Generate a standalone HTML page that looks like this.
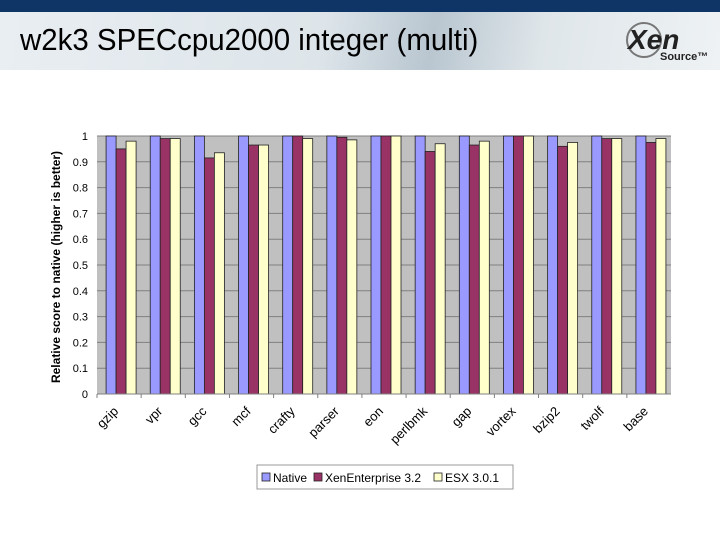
<!DOCTYPE html>
<html><head><meta charset="utf-8"><style>
body{margin:0;width:720px;height:540px;background:#fff;overflow:hidden;font-family:"Liberation Sans",Arial,sans-serif}
#hdr{position:absolute;left:0;top:0;width:720px;height:70px;background:linear-gradient(100deg,#e9eef2 0%,#dde5ea 45%,#b9c6d0 60%,#dfe6ea 75%,#eef2f4 100%)}
#topbar{position:absolute;left:0;top:0;width:720px;height:12px;background:#0e3566}
#title{position:absolute;left:20px;top:22px;font-size:31px;color:#000;transform:scaleX(0.95);transform-origin:left}
#logo{position:absolute;left:624px;top:20px;width:90px;height:44px}
</style></head><body>
<div id="hdr"></div>
<div id="topbar"></div>
<div id="title">w2k3 SPECcpu2000 integer (multi)</div>
<svg id="logo" width="90" height="44">
<ellipse cx="20" cy="20" rx="17" ry="17" fill="none" stroke="#777" stroke-width="2"/>
<text x="4" y="29" font-family="Liberation Sans" font-weight="bold" font-style="italic" font-size="28" fill="#222">Xen</text>
<text x="36" y="40" font-family="Liberation Sans" font-weight="bold" font-size="11" fill="#222">Source™</text>
</svg>
<svg id="chart" width="720" height="540" style="position:absolute;left:0;top:0"></svg>
<script>
const categories=["gzip","vpr","gcc","mcf","crafty","parser","eon","perlbmk","gap","vortex","bzip2","twolf","base"];
const nativeVals=[1,1,1,1,1,1,1,1,1,1,1,1,1];
const xenVals=[0.95,0.99,0.915,0.965,1.0,0.995,1.0,0.94,0.965,1.0,0.96,0.99,0.975];
const esxVals=[0.98,0.99,0.935,0.965,0.99,0.985,1.0,0.97,0.98,1.0,0.975,0.99,0.99];
const yTicks=[0,0.1,0.2,0.3,0.4,0.5,0.6,0.7,0.8,0.9,1];
const seriesNames=["Native","XenEnterprise 3.2","ESX 3.0.1"];
const colors=["#9999ff","#993366","#ffffcc"];
const svg=document.getElementById('chart');const NS="http://www.w3.org/2000/svg";
const L=97,R=671,T=136,B=394;
const y=v=>B-(v/1)*(B-T);
const band=(R-L)/categories.length;
const x=i=>L+i*band;
function mk(t,a){const e=document.createElementNS(NS,t);for(const k in a)e.setAttribute(k,a[k]);svg.appendChild(e);return e;}
let bg=mk('rect',{x:L,y:T,width:R-L,height:B-T,fill:'#c0c0c0'});


yTicks.forEach(t=>{
 let g=mk('line',{x1:L,x2:R,y1:y(t),y2:y(t),stroke:'#808080','stroke-width':1});
 
 
 let tl=mk('text',{x:L-9,y:y(t)+4,'text-anchor':'end','font-size':11,fill:'#000'});
 tl.textContent=String(t);
 
 
});
const series=[nativeVals,xenVals,esxVals];
const bw=10;
categories.forEach((c,i)=>{
 const cx=x(i)+band/2;
 series.forEach((s,k)=>{
  const bx=cx-1.5*bw+k*bw+2;
  let r=mk('rect',{x:bx,y:y(s[i]),width:bw,height:B-y(s[i]),fill:colors[k],stroke:'#222','stroke-width':0.8});
  
  
 });
 let tk=mk('line',{x1:x(i),x2:x(i),y1:B,y2:B+4,stroke:'#808080'});
 
 
 let lb=mk('text',{x:cx,y:B+18,'text-anchor':'end','font-size':13,transform:`rotate(-45 ${cx} ${B+18})`});
 lb.textContent=c;
 
 
});
let ax=mk('line',{x1:L,x2:R,y1:B,y2:B,stroke:'#808080'});


let yt=mk('text',{x:60,y:(T+B)/2+2,'text-anchor':'middle','font-size':12,'font-weight':'bold',transform:`rotate(-90 60 ${(T+B)/2+2})`});
yt.textContent="Relative score to native (higher is better)";


let lg=mk('rect',{x:257,y:465,width:256,height:24,fill:'#fff',stroke:'#999'});


const lx=[262,314,434];
seriesNames.forEach((n,k)=>{
 let sw=mk('rect',{x:lx[k],y:473,width:8,height:8,fill:colors[k],stroke:'#222','stroke-width':0.8});
 
 
 let t=mk('text',{x:lx[k]+11,y:482,'font-size':12});
 t.textContent=n;
 
 
});
</script>
</body></html>
